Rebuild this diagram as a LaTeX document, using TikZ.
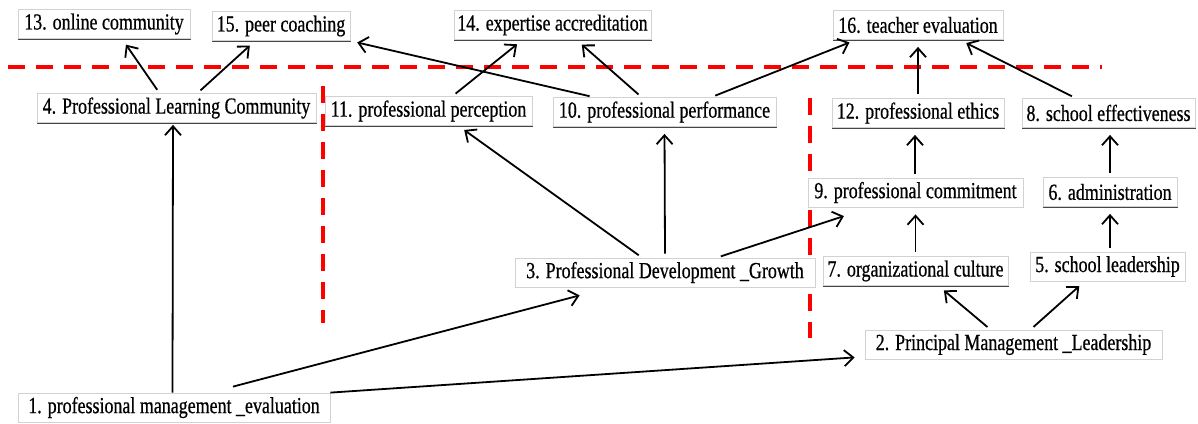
\documentclass[tikz,border=0pt]{standalone}
\usepackage{fontspec}
\setmainfont{Liberation Serif}[FakeStretch=0.78,FakeBold=0.6]
\usetikzlibrary{arrows.meta}

\begin{document}
\begin{tikzpicture}[x=1pt,y=-1pt,
  box/.style={draw=gray!35, fill=white, line width=0.8pt, inner sep=0pt,
    minimum width=#1, minimum height=29pt, font=\fontsize{23}{25}\selectfont,
    append after command={\pgfextra{\draw[gray!55!black, line width=1.5pt]
      (\tikzlastnode.south west) -- (\tikzlastnode.south east) -- (\tikzlastnode.north east);}}},
  link/.style={-{Straight Barb[length=9pt,width=16pt]}, line width=1.8pt, shorten >=7pt, shorten <=4pt},
  divider/.style={red, line width=4pt, dash pattern=on 17pt off 11pt}]
\useasboundingbox (0,0) rectangle (1198,423);

% separators
\draw[divider] (8,67) -- (1102,67);
\draw[divider] (323,86) -- (323,323);
\draw[divider] (810,98) -- (810,338);

\node[box=172pt] (online) at (104,24) {13. online community};
\node[box=138pt] (coaching) at (281,26) {15. peer coaching};
\node[box=197pt] (accredit) at (552.5,25) {14. expertise accreditation};
\node[box=170pt] (evaluation) at (918,25) {16. teacher evaluation};
\node[box=279pt] (plc) at (176.5,108) {4. Professional Learning Community};
\node[box=207pt] (perception) at (428.5,111) {11. professional perception};
\node[box=223pt] (performance) at (664.5,112) {10. professional performance};
\node[box=172pt] (ethics) at (918,113) {12. professional ethics};
\node[box=173pt] (effect) at (1108.5,113) {8. school effectiveness};
\node[box=215pt] (commit) at (915.5,192.5) {9. professional commitment};
\node[box=134pt] (admin) at (1110,192) {6. administration};
\node[box=300pt] (growth) at (665,272.5) {3. Professional Development \_Growth};
\node[box=185pt] (culture) at (915.5,271) {7. organizational culture};
\node[box=155pt] (leader) at (1107.5,266.5) {5. school leadership};
\node[box=297pt] (principal) at (1013.5,344.5) {2. Principal Management \_Leadership};
\node[box=312pt] (manage) at (174,407.5) {1. professional management \_evaluation};

\draw[link] ([xshift=-17pt]plc.north) -- ([xshift=18pt]online.south);
\draw[link] ([xshift=21pt]plc.north) -- ([xshift=-26pt]coaching.south);
\draw[link, shorten >=2pt, shorten <=0pt] ([xshift=-1.5pt]manage.north) -- ([xshift=-3.5pt]plc.south);
\draw[link] ([xshift=-71pt]performance.north) -- (coaching.south east);
\draw[link] ([xshift=24pt]perception.north) -- ([xshift=-30pt]accredit.south);
\draw[link] ([xshift=-23pt]performance.north) -- ([xshift=24pt]accredit.south);
\draw[link] ([xshift=47pt]performance.north) -- ([xshift=-62pt]evaluation.south);
\draw[link] (ethics.north) -- (evaluation.south);
\draw[link] ([xshift=-33pt]effect.north) -- ([xshift=42pt]evaluation.south);
\draw[link] ([xshift=-23pt]growth.north) -- ([xshift=30pt]perception.south);
\draw[link] (growth.north) -- (performance.south);
\draw[link, shorten >=28pt] ([xshift=52pt]growth.north) -- ([xshift=-45pt]commit.south);
\draw[link] ([xshift=-0.5pt]commit.north) -- ([xshift=-3pt]ethics.south);
\draw[link] (culture.north) -- (commit.south);
\draw[link] (admin.north) -- ([xshift=1.5pt]effect.south);
\draw[link] ([xshift=2.5pt]leader.north) -- (admin.south);
\draw[link] ([xshift=-23pt]principal.north) -- ([xshift=23pt]culture.south);
\draw[link] ([xshift=17pt]principal.north) -- ([xshift=-23pt]leader.south);
\draw[link, shorten >=0pt, shorten <=0pt] ([xshift=59pt,yshift=6pt]manage.north) -- ([xshift=65pt,yshift=-8pt]growth.south west);
\draw[link, shorten >=0pt, shorten <=0pt] (manage.north east) -- ([xshift=-10pt,yshift=2pt]principal.south west);
\end{tikzpicture}
\end{document}
